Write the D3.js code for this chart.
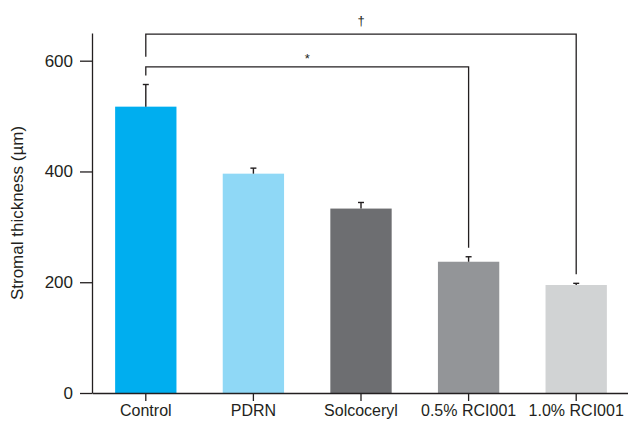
<!DOCTYPE html>
<html>
<head>
<meta charset="utf-8">
<script src="https://cdn.jsdelivr.net/npm/d3@7"></script>
<style>
  body { margin: 0; background: #fff; }
  text { font-family: "Liberation Sans", Arial, Helvetica, sans-serif; fill: #231f20; }
</style>
</head>
<body>
<script>
const categories = ['Control', 'PDRN', 'Solcoceryl', '0.5% RCI001', '1.0% RCI001'];
const means = [517, 396, 333, 237, 195];
const errors = [40, 10, 11, 9, 3];
const colors = ['#00aeef', '#8fd8f6', '#6d6e71', '#939598', '#d1d3d4'];
const yTicks = [0, 200, 400, 600];
// significance: control vs group, bracket level in axis units
const comparisons = [
  { from: 0, to: 3, level: 589, label: '*' },
  { from: 0, to: 4, level: 648, label: '\u2020' }
];

const width = 628, height = 423;
const margin = { top: 33, right: 0, bottom: 30, left: 92 };

const svg = d3.select(document.body).append('svg')
  .attr('width', width)
  .attr('height', height);

const x = d3.scaleBand()
  .domain(categories)
  .range([margin.left, 630])
  .paddingInner(0.43)
  .paddingOuter(0.215);

const y = d3.scaleLinear()
  .domain([0, 650])
  .range([height - margin.bottom, margin.top]);

const data = categories.map((c, i) => ({ name: c, mean: means[i], err: errors[i], color: colors[i] }));

// bars
svg.selectAll('.bar').data(data)
  .enter().append('rect')
  .attr('class', 'bar')
  .attr('x', d => x(d.name))
  .attr('y', d => y(d.mean))
  .attr('width', x.bandwidth())
  .attr('height', d => y(0) - y(d.mean))
  .attr('fill', d => d.color);

// error bars (upper only)
const eb = svg.selectAll('.err').data(data).enter().append('g')
  .attr('class', 'err')
  .attr('stroke', '#231f20')
  .attr('stroke-width', 1.4);
eb.append('line')
  .attr('x1', d => x(d.name) + x.bandwidth() / 2)
  .attr('x2', d => x(d.name) + x.bandwidth() / 2)
  .attr('y1', d => y(d.mean))
  .attr('y2', d => y(d.mean + d.err));
eb.append('line')
  .attr('x1', d => x(d.name) + x.bandwidth() / 2 - 3)
  .attr('x2', d => x(d.name) + x.bandwidth() / 2 + 3)
  .attr('y1', d => y(d.mean + d.err))
  .attr('y2', d => y(d.mean + d.err));

// axes
const yAxis = svg.append('g')
  .attr('transform', `translate(${margin.left},0)`)
  .call(d3.axisLeft(y).tickValues(yTicks).tickSize(12).tickPadding(7).tickSizeOuter(0));
const xAxis = svg.append('g')
  .attr('transform', `translate(0,${y(0)})`)
  .call(d3.axisBottom(x).tickSize(8).tickPadding(4).tickSizeOuter(0));

[yAxis, xAxis].forEach(a => {
  a.selectAll('path, line').attr('stroke', '#231f20').attr('stroke-width', 1.3);
  a.selectAll('text').attr('fill', '#231f20').style('font-size', '16px');
});
yAxis.selectAll('text').style('font-size', '17px');

svg.append('text')
  .attr('transform', `translate(23,${(y(0) + y(650)) / 2}) rotate(-90)`)
  .attr('text-anchor', 'middle')
  .style('font-size', '17px')
  .text('Stromal thickness (\u00b5m)');

// significance brackets
const cx = i => x(categories[i]) + x.bandwidth() / 2;
let prevLevel = null;
comparisons.forEach(c => {
  const yl = y(c.level);
  const leftEnd = prevLevel === null ? y(means[c.from] + errors[c.from]) - 9 : prevLevel - 10;
  const rightEnd = y(means[c.to] + errors[c.to]) - 9;
  svg.append('path')
    .attr('d', `M${cx(c.from)},${leftEnd}V${yl}H${cx(c.to)}V${rightEnd}`)
    .attr('fill', 'none')
    .attr('stroke', '#231f20')
    .attr('stroke-width', 1.3);
  svg.append('text')
    .attr('x', (cx(c.from) + cx(c.to)) / 2)
    .attr('y', c.label === '*' ? yl - 4 : yl - 9)
    .attr('text-anchor', 'middle')
    .style('font-size', '13px')
    .style('fill', '#231f20')
    .text(c.label);
  prevLevel = yl;
});
</script>
</body>
</html>
